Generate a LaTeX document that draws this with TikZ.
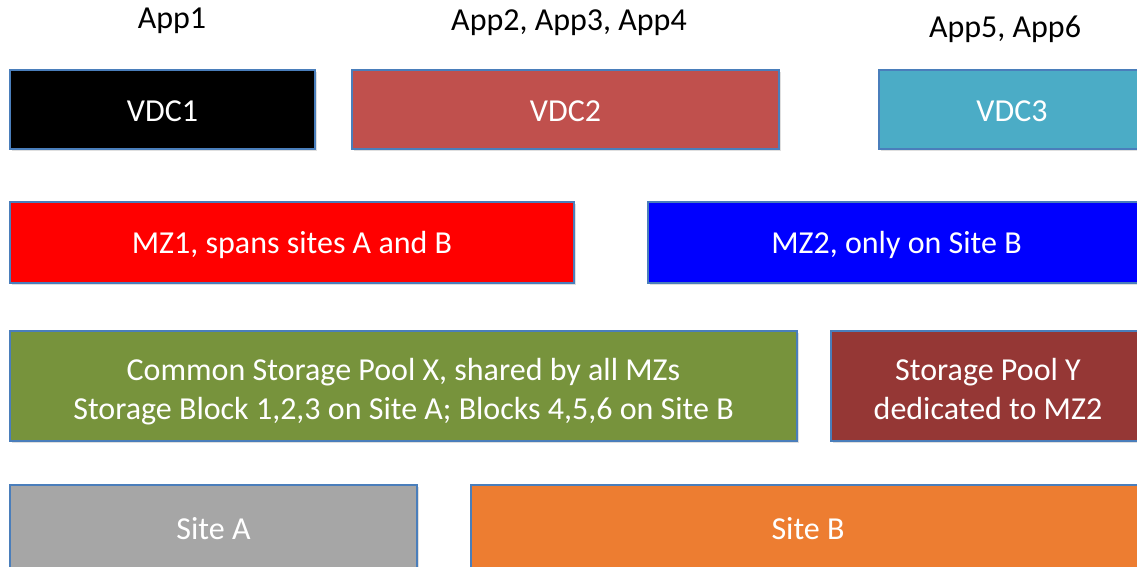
\documentclass[tikz,border=0pt]{standalone}
\usepackage{fontspec}
\setmainfont{Carlito}
\usetikzlibrary{shadows}
\definecolor{edge}{HTML}{4A7EBB}
\definecolor{cvdc2}{HTML}{C0504D}
\definecolor{cvdc3}{HTML}{4BACC6}
\definecolor{cgreen}{HTML}{77933C}
\definecolor{cpooly}{HTML}{953735}
\definecolor{cgray}{HTML}{A6A6A6}
\definecolor{corange}{HTML}{ED7D31}
\newcommand{\dn}[2]{\raisebox{-#1pt}[\height][\depth]{#2}}
\tikzset{
  blk/.style={rectangle, draw=edge, line width=1.2pt, inner sep=0pt, text=white,
    font=\fontsize{32}{39}\selectfont, align=center,
    drop shadow={shadow xshift=1.5pt, shadow yshift=-2pt, opacity=0.25}},
  app/.style={inner sep=0pt, text=black, font=\fontsize{32}{39}\selectfont}
}
\begin{document}
\begin{tikzpicture}[x=1pt,y=1pt]
\useasboundingbox (0,0) rectangle (1137,567);
\clip (0,0) rectangle (1137,567);
\fill[white] (0,0) rectangle (1137,567);
% labels
\node[app] (app1) at (172,546) {App1};
\node[app] (app234) at (569,544) {App2, App3, App4};
\node[app] (app56) at (1005,538) {App5, App6};
% VDC row
\node[blk, fill=black, minimum width=305, minimum height=79] (vdc1) at (162.5,457.5) {\dn{2}{VDC1}};
\node[blk, fill=cvdc2, minimum width=427, minimum height=79] (vdc2) at (565.5,457.5) {\dn{2}{VDC2}};
\node[blk, fill=cvdc3, minimum width=266, minimum height=79] (vdc3) at (1012,457.5) {\dn{2}{VDC3}};
% MZ row
\node[blk, fill=red, minimum width=564, minimum height=81] (mz1) at (292,324.5) {\dn{2}{MZ1, spans sites A and B}};
\node[blk, fill=blue, minimum width=497, minimum height=81] (mz2) at (896.5,324.5) {\dn{2}{MZ2, only on Site B}};
% storage row
\node[blk, fill=cgreen, minimum width=787, minimum height=110] (poolx) at (403.5,181) {\dn{6}{Common Storage Pool X, shared by all MZs}\\\dn{6}{Storage Block 1,2,3 on Site A; Blocks 4,5,6 on Site B}};
\node[blk, fill=cpooly, minimum width=314, minimum height=110] (pooly) at (988,181) {\dn{3}{Storage Pool Y}\\\dn{3}{dedicated to MZ2}};
% sites
\node[blk, fill=cgray, minimum width=407, minimum height=87] (sitea) at (213.5,38.5) {Site A};
\node[blk, fill=corange, minimum width=674, minimum height=87] (siteb) at (808,38.5) {Site B};
\end{tikzpicture}
\end{document}
